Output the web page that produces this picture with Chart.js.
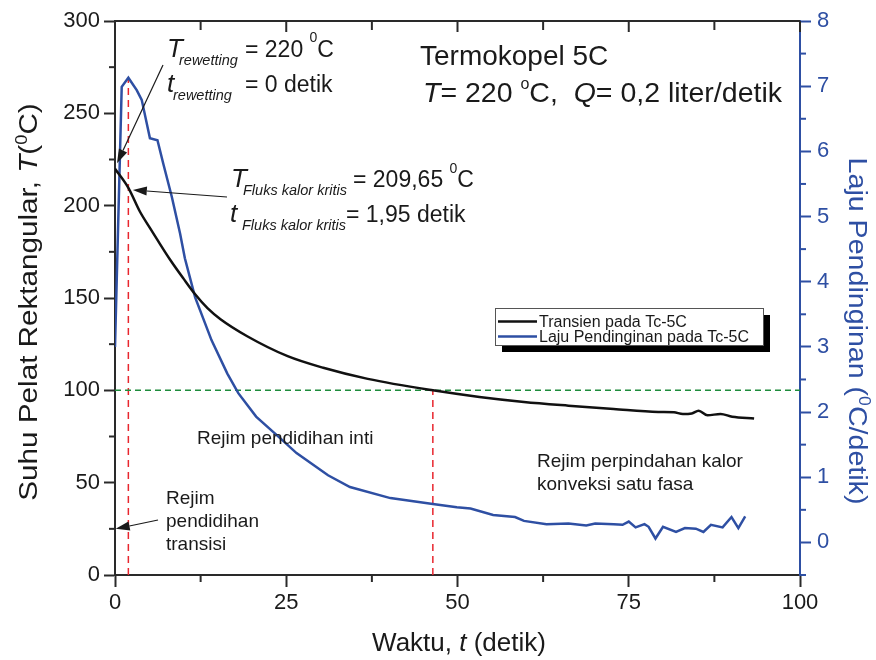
<!DOCTYPE html>
<html>
<head>
<meta charset="utf-8">
<script src="https://cdn.jsdelivr.net/npm/chart.js@4.4.1/dist/chart.umd.min.js"></script>
<style>
  html, body { margin: 0; padding: 0; background: #fff; }
</style>
</head>
<body>
<canvas id="chart" width="876" height="660"></canvas>
<script>
// values
const tTransien = [0, 1.95, 3.65, 5.0, 6.1, 8.0, 10.0, 11.7, 13.5, 15.4, 19.3, 25.2, 30.4, 36.9, 46.4, 53.2, 59.7, 66.2, 72.8, 79.3, 81.6, 82.9, 84.2, 85.2, 86.5, 88.4, 90.1, 93.3];
const suhuTransien = [220, 209.65, 196.7, 188.5, 182.0, 171.0, 160.5, 152.0, 144.5, 138.5, 129.3, 118.5, 112.2, 106.2, 100.0, 96.4, 93.7, 91.7, 89.9, 88.3, 88.1, 87.2, 87.5, 89.0, 86.5, 87.2, 85.7, 84.8];

const tLaju = [0, 0.98, 1.95, 3.17, 3.9, 5.1, 6.2, 7.05, 8.3, 9.5, 10.2, 11.7, 14.1, 16.4, 18.0, 20.6, 23.9, 26.5, 31.1, 34.3, 40.2, 46.4, 49.9, 51.9, 55.2, 58.4, 59.7, 63.0, 66.2, 68.8, 70.1, 72.8, 74.1, 75.0, 76.0, 77.3, 77.9, 78.9, 80.0, 81.9, 83.2, 84.8, 85.9, 87.0, 88.7, 90.0, 91.0, 92.0];
const lajuPendinginan = [3.0, 6.99, 7.13, 6.94, 6.79, 6.20, 6.17, 5.81, 5.30, 4.74, 4.36, 3.76, 3.10, 2.59, 2.29, 1.93, 1.62, 1.37, 1.03, 0.85, 0.68, 0.59, 0.54, 0.52, 0.42, 0.39, 0.33, 0.28, 0.29, 0.26, 0.29, 0.28, 0.27, 0.32, 0.23, 0.28, 0.24, 0.06, 0.24, 0.16, 0.22, 0.21, 0.16, 0.27, 0.23, 0.39, 0.22, 0.40];

// guide lines: T = 100 C, t at critical heat flux, t at T = 100 C
const garisHijauT = [0, 100];
const garisHijauSuhu = [100, 100];
const tKritis = 1.95;
const tSuhu100 = 46.4;
const garisMerah1Suhu = [0, 268];
const garisMerah2Suhu = [0, 100];

const xTicks = [0, 25, 50, 75, 100];
const xMinor = [12.5, 37.5, 62.5, 87.5];
const yTicks = [0, 50, 100, 150, 200, 250, 300];
const yMinor = [25, 75, 125, 175, 225, 275];
const rTicks = [0, 1, 2, 3, 4, 5, 6, 7, 8];
const rMinor = [-0.5, 0.5, 1.5, 2.5, 3.5, 4.5, 5.5, 6.5, 7.5];

const FONT = "'Liberation Sans', Arial, Helvetica, sans-serif";
const BLUE = '#2e4fa3';
const AXIS = '#2a2a2a';
const INK = '#1a1a1a';

function pts(xs, ys) {
  return xs.map((x, i) => ({ x: x, y: ys[i] }));
}

function txt(ctx, s, x, y, size, opt) {
  opt = opt || {};
  const k = opt.sx || 1;
  ctx.save();
  ctx.font = (opt.italic ? 'italic ' : '') + size + 'px ' + FONT;
  ctx.fillStyle = opt.color || INK;
  ctx.textAlign = 'left';
  ctx.textBaseline = 'alphabetic';
  ctx.translate(x, y);
  ctx.scale(k, 1);
  ctx.fillText(s, 0, 0);
  const w = ctx.measureText(s).width * k;
  ctx.restore();
  return x + w;
}

function richWidth(ctx, parts) {
  let w = 0;
  parts.forEach(p => {
    ctx.font = (p.it ? 'italic ' : '') + p.size + 'px ' + FONT;
    w += ctx.measureText(p.t).width;
  });
  return w;
}

function drawRich(ctx, parts, x, y) {
  let cx = x;
  parts.forEach(p => {
    ctx.font = (p.it ? 'italic ' : '') + p.size + 'px ' + FONT;
    ctx.fillText(p.t, cx, y + (p.dy || 0));
    cx += ctx.measureText(p.t).width;
  });
}

function arrow(ctx, x1, y1, x2, y2) {
  const a = Math.atan2(y2 - y1, x2 - x1), L = 14, W = 4.5;
  const bx = x2 - L * Math.cos(a), by = y2 - L * Math.sin(a);
  ctx.beginPath(); ctx.moveTo(x1, y1); ctx.lineTo(bx, by); ctx.stroke();
  ctx.beginPath();
  ctx.moveTo(x2, y2);
  ctx.lineTo(bx + W * Math.sin(a), by - W * Math.cos(a));
  ctx.lineTo(bx - W * Math.sin(a), by + W * Math.cos(a));
  ctx.closePath(); ctx.fill();
}

// top axis, minor ticks, texts, arrows, legend box, axis titles
const decor = {
  id: 'decor',
  afterDraw(chart) {
    const ctx = chart.ctx;
    const a = chart.chartArea;
    const sx = chart.scales.x, sy = chart.scales.y, sr = chart.scales.y1;
    ctx.save();
    ctx.lineWidth = 2;
    ctx.strokeStyle = AXIS;

    // top frame line with inward ticks
    ctx.beginPath(); ctx.moveTo(a.left - 1, a.top); ctx.lineTo(a.right, a.top); ctx.stroke();
    xTicks.forEach(v => { const x = sx.getPixelForValue(v); ctx.beginPath(); ctx.moveTo(x, a.top); ctx.lineTo(x, a.top + 11); ctx.stroke(); });
    xMinor.forEach(v => { const x = sx.getPixelForValue(v); ctx.beginPath(); ctx.moveTo(x, a.top); ctx.lineTo(x, a.top + 9); ctx.stroke(); });
    // bottom minor
    xMinor.forEach(v => { const x = sx.getPixelForValue(v); ctx.beginPath(); ctx.moveTo(x, a.bottom); ctx.lineTo(x, a.bottom + 7); ctx.stroke(); });
    // left minor
    yMinor.forEach(v => { const y = sy.getPixelForValue(v); ctx.beginPath(); ctx.moveTo(a.left, y); ctx.lineTo(a.left - 6, y); ctx.stroke(); });
    // right minor
    ctx.strokeStyle = BLUE;
    rMinor.forEach(v => { const y = sr.getPixelForValue(v); ctx.beginPath(); ctx.moveTo(a.right, y); ctx.lineTo(a.right + 6, y); ctx.stroke(); });

    // arrows
    ctx.strokeStyle = INK; ctx.fillStyle = INK; ctx.lineWidth = 1.2;
    arrow(ctx, 163, 65, sx.getPixelForValue(0.3), sy.getPixelForValue(223));
    arrow(ctx, 227, 197, sx.getPixelForValue(2.6), sy.getPixelForValue(208.5));
    arrow(ctx, 158, 520, sx.getPixelForValue(0.1), sy.getPixelForValue(25));

    // annotation: rewetting
    txt(ctx, 'T', 167, 57, 26, { italic: true });
    txt(ctx, 'rewetting', 179, 65, 14.5, { italic: true });
    let e = txt(ctx, '= 220 ', 245, 57, 23);
    e = txt(ctx, '0', e, 42, 14);
    txt(ctx, 'C', e, 57, 23);
    txt(ctx, 't', 167, 92, 26, { italic: true });
    txt(ctx, 'rewetting', 173, 100, 14.5, { italic: true });
    txt(ctx, '= 0 detik', 245, 92, 23);

    // annotation: critical heat flux
    txt(ctx, 'T', 231, 187, 26, { italic: true });
    txt(ctx, 'Fluks kalor kritis', 243, 195, 14.5, { italic: true });
    e = txt(ctx, '= 209,65 ', 353, 187, 23);
    e = txt(ctx, '0', e, 173, 14);
    txt(ctx, 'C', e, 187, 23);
    txt(ctx, 't', 230, 222, 26, { italic: true });
    txt(ctx, 'Fluks kalor kritis', 242, 230, 14.5, { italic: true });
    txt(ctx, '= 1,95 detik', 346, 222, 23);

    // header text
    txt(ctx, 'Termokopel 5C', 420, 65, 28);
    e = txt(ctx, 'T', 423, 102, 28.5, { italic: true });
    e = txt(ctx, '= 220 ', e, 102, 28.5);
    e = txt(ctx, 'o', e, 89, 16);
    e = txt(ctx, 'C,  ', e, 102, 28.5);
    e = txt(ctx, 'Q', e, 102, 28.5, { italic: true });
    txt(ctx, '= 0,2 liter/detik', e, 102, 28.5);

    // regime labels
    txt(ctx, 'Rejim pendidihan inti', 197, 444, 19);
    txt(ctx, 'Rejim perpindahan kalor', 537, 467, 19);
    txt(ctx, 'konveksi satu fasa', 537, 490, 19);
    txt(ctx, 'Rejim', 166, 504, 19);
    txt(ctx, 'pendidihan', 166, 527, 19);
    txt(ctx, 'transisi', 166, 550, 19);

    // legend box with shadow
    ctx.fillStyle = '#000';
    ctx.fillRect(502, 315, 268, 37);
    ctx.fillStyle = '#fff';
    ctx.fillRect(495, 308, 268, 37);
    ctx.strokeStyle = '#555'; ctx.lineWidth = 1;
    ctx.strokeRect(495.5, 308.5, 268, 37);
    ctx.lineWidth = 2.5;
    ctx.strokeStyle = '#111';
    ctx.beginPath(); ctx.moveTo(498, 321.5); ctx.lineTo(537, 321.5); ctx.stroke();
    ctx.strokeStyle = BLUE;
    ctx.beginPath(); ctx.moveTo(498, 336.5); ctx.lineTo(537, 336.5); ctx.stroke();
    txt(ctx, 'Transien pada Tc-5C', 539, 327, 16);
    txt(ctx, 'Laju Pendinginan pada Tc-5C', 539, 342, 16);

    // axis titles
    ctx.fillStyle = INK;
    ctx.textAlign = 'left'; ctx.textBaseline = 'alphabetic';
    const leftT = [{ t: 'Suhu Pelat Rektangular, ', size: 26 }, { t: 'T', size: 26, it: true }, { t: '(', size: 26 }, { t: '0', size: 16, dy: -10 }, { t: 'C)', size: 26 }];
    ctx.save(); ctx.translate(37, 302); ctx.rotate(-Math.PI / 2); ctx.scale(1.14, 1);
    drawRich(ctx, leftT, -richWidth(ctx, leftT) / 2, 0); ctx.restore();

    const botT = [{ t: 'Waktu, ', size: 25 }, { t: 't', size: 25, it: true }, { t: ' (detik)', size: 25 }];
    ctx.save(); ctx.translate(459, 651); ctx.scale(1.04, 1);
    drawRich(ctx, botT, -richWidth(ctx, botT) / 2, 0); ctx.restore();

    ctx.fillStyle = BLUE;
    const rightT = [{ t: 'Laju Pendinginan (', size: 26 }, { t: '0', size: 16, dy: -10 }, { t: 'C/detik)', size: 26 }];
    ctx.save(); ctx.translate(849, 331); ctx.rotate(Math.PI / 2); ctx.scale(1.1, 1);
    drawRich(ctx, rightT, -richWidth(ctx, rightT) / 2, 0); ctx.restore();

    ctx.restore();
  }
};

const tickFont = { family: FONT, size: 22 };

new Chart(document.getElementById('chart'), {
  type: 'line',
  data: {
    datasets: [
      { label: 'Transien pada Tc-5C', data: pts(tTransien, suhuTransien), yAxisID: 'y', borderColor: '#111', borderWidth: 2.5, cubicInterpolationMode: 'monotone', order: 0 },
      { label: 'Laju Pendinginan pada Tc-5C', data: pts(tLaju, lajuPendinginan), yAxisID: 'y1', borderColor: BLUE, borderWidth: 2.5, tension: 0, order: 0 },
      { label: 'T = 100', data: pts(garisHijauT, garisHijauSuhu), yAxisID: 'y', borderColor: '#1e8c3c', borderWidth: 1.5, borderDash: [6, 4], order: 1 },
      { label: 't kritis', data: pts([tKritis, tKritis], garisMerah1Suhu), yAxisID: 'y', borderColor: '#e8262e', borderWidth: 1.5, borderDash: [7, 5], order: 1 },
      { label: 't 100', data: pts([tSuhu100, tSuhu100], garisMerah2Suhu), yAxisID: 'y', borderColor: '#e8262e', borderWidth: 1.5, borderDash: [7, 5], order: 1 }
    ]
  },
  options: {
    responsive: false,
    animation: false,
    layout: { padding: { top: 21, left: 0, right: 0, bottom: 0 } },
    elements: { point: { radius: 0 } },
    plugins: { legend: { display: false }, tooltip: { enabled: false } },
    scales: {
      x: {
        type: 'linear', min: 0, max: 100,
        afterBuildTicks: s => { s.ticks = xTicks.map(v => ({ value: v })); },
        afterFit: s => { s.height = 85; },
        grid: { drawOnChartArea: false, tickLength: 12, tickWidth: 2, tickColor: AXIS },
        border: { color: AXIS, width: 2 },
        ticks: { font: tickFont, color: INK, padding: 3, maxRotation: 0, autoSkip: false }
      },
      y: {
        position: 'left', min: 0, max: 300,
        afterBuildTicks: s => { s.ticks = yTicks.map(v => ({ value: v })); },
        afterFit: s => { s.width = 115; },
        grid: { drawOnChartArea: false, tickLength: 11, tickWidth: 2, tickColor: AXIS },
        border: { color: AXIS, width: 2 },
        ticks: { font: tickFont, color: INK, padding: 4, autoSkip: false }
      },
      y1: {
        position: 'right', min: -0.5, max: 8,
        afterBuildTicks: s => { s.ticks = rTicks.map(v => ({ value: v })); },
        afterFit: s => { s.width = 76; },
        grid: { drawOnChartArea: false, tickLength: 11, tickWidth: 2, tickColor: BLUE },
        border: { color: BLUE, width: 2 },
        ticks: { font: tickFont, color: BLUE, padding: 6, autoSkip: false }
      }
    }
  },
  plugins: [decor]
});
</script>
</body>
</html>
